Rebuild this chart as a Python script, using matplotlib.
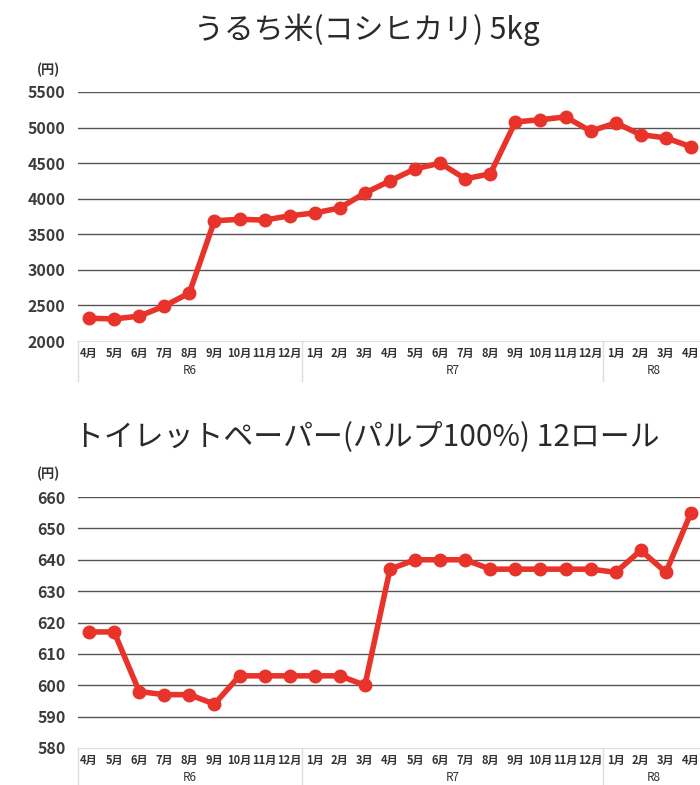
import matplotlib.pyplot as plt

plt.rcParams['font.family'] = ['Noto Sans CJK JP', 'DejaVu Sans']

months = ['4月', '5月', '6月', '7月', '8月', '9月', '10月', '11月', '12月',
          '1月', '2月', '3月', '4月', '5月', '6月', '7月', '8月', '9月', '10月', '11月', '12月',
          '1月', '2月', '3月', '4月']
years = ['R6', 'R7', 'R8']
year_counts = [9, 12, 4]

rice = [2320, 2310, 2350, 2490, 2675, 3690, 3710, 3700, 3760,
        3800, 3870, 4080, 4250, 4420, 4500, 4280, 4350, 5080, 5110, 5150, 4950,
        5065, 4900, 4855, 4730]
rice_ticks = [2000, 2500, 3000, 3500, 4000, 4500, 5000, 5500]

paper = [617, 617, 598, 597, 597, 594, 603, 603, 603,
         603, 603, 600, 637, 640, 640, 640, 637, 637, 637, 637, 637,
         636, 643, 636, 655]
paper_ticks = [580, 590, 600, 610, 620, 630, 640, 650, 660]

RED = '#e8332a'
GRID = '#555555'
TXT = '#333333'


def draw(ax, values, yticks, title, title_y, title_size, unit_y):
    x = list(range(len(months)))
    ax.plot(x, values, '-o', color=RED, lw=4, ms=9, clip_on=False, zorder=3)
    ax.set_xlim(-0.44, 24.36)
    ax.set_ylim(yticks[0], yticks[-1])
    ax.set_yticks(yticks)
    ax.set_xticks(x)
    ax.set_xticklabels(months, fontsize=8, fontweight='bold', color=TXT)
    for t in ax.get_yticklabels():
        t.set_fontweight('bold')
    ax.tick_params(axis='y', length=0, pad=9, labelsize=11.5, labelcolor='#3c3c3c')
    ax.tick_params(axis='x', length=0, pad=4)
    for y in yticks[1:]:
        ax.axhline(y, color=GRID, lw=1, zorder=1)
    for s in ['top', 'right', 'left']:
        ax.spines[s].set_visible(False)
    ax.spines['bottom'].set_color('#dddddd')

    # year groups under the month labels
    tr = ax.get_xaxis_transform()
    h = ax.get_window_extent().height
    start = 0
    bounds = [-0.44]
    for name, n in zip(years, year_counts):
        center = start + (n - 1) / 2
        if center > 24:
            center = 22.6
        ax.annotate(name, xy=(center, 0), xycoords=tr, xytext=(0, -21.5),
                    textcoords='offset points', ha='center', va='center',
                    fontsize=8.5, color=TXT)
        start += n
        if start < len(months):
            bounds.append(start - 0.5)
    for b in bounds:
        ax.plot([b, b], [0, -40 / h], transform=tr, color='#dddddd', lw=1, clip_on=False)

    fig.text(367 / 700, 1 - title_y / 785, title, ha='center', va='center',
             fontsize=title_size, color='#2a2a2a')
    fig.text(48 / 700, 1 - unit_y / 785, '(円)', ha='center', va='center',
             fontsize=9.5, fontweight='bold', color=TXT)


fig = plt.figure(figsize=(7, 7.85), dpi=100)
ax1 = fig.add_axes([78 / 700, 1 - 341 / 785, 1 - 78 / 700, (341 - 92) / 785])
ax2 = fig.add_axes([78 / 700, 1 - 748 / 785, 1 - 78 / 700, (748 - 497) / 785])

draw(ax1, rice, rice_ticks, 'うるち米(コシヒカリ) 5kg', 30, 21.5, 70)
draw(ax2, paper, paper_ticks, 'トイレットペーパー(パルプ100%) 12ロール', 437, 21.5, 474)

fig.savefig('out.png', dpi=100)
